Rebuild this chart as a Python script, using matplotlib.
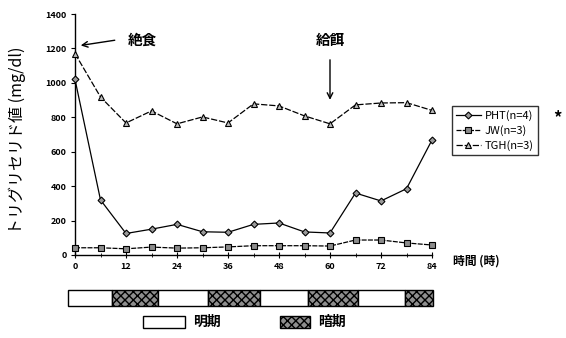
import matplotlib
matplotlib.use('Agg')
import matplotlib.pyplot as plt
from matplotlib.patches import Rectangle

plt.rcParams['font.family'] = ['Noto Sans CJK JP', 'DejaVu Sans']

# sampling times (h) after start of fasting
hours = [0, 6, 12, 18, 24, 30, 36, 42, 48, 54, 60, 66, 72, 78, 84]
pht = [1020, 320, 125, 150, 178, 135, 132, 178, 186, 134, 128, 360, 314, 385, 668]
jw = [42, 42, 36, 46, 40, 42, 47, 54, 54, 54, 52, 87, 87, 70, 58]
tgh = [1170, 918, 767, 837, 762, 802, 767, 878, 866, 808, 762, 872, 883, 885, 840]

series_labels = ['PHT(n=4)', 'JW(n=3)', 'TGH(n=3)']
x_ticks = [0, 12, 24, 36, 48, 60, 72, 84]
y_ticks = [0, 200, 400, 600, 800, 1000, 1200, 1400]

# light/dark cycle (h): phase boundaries and whether each span is dark
cycle_edges = [-1.6, 8.7, 19.5, 31.3, 43.5, 54.8, 66.6, 77.6, 84.2]
cycle_dark = [False, True, False, True, False, True, False, True]

fig = plt.figure(figsize=(5.66, 3.38), dpi=100)
ax = fig.add_axes([75 / 566, 83 / 338, 357 / 566, 241 / 338])

mk = dict(color='black', lw=0.9, markeredgecolor='black', markeredgewidth=0.8,
          clip_on=False, zorder=3)
ax.plot(hours, pht, marker='D', markersize=3.5, markerfacecolor='#9a9a9a',
        label=series_labels[0], **mk)
ax.plot(hours, jw, marker='s', markersize=4, markerfacecolor='#8c8c8c',
        label=series_labels[1], dashes=(4, 1), **mk)
ax.plot(hours, tgh, marker='^', markersize=4.5, markerfacecolor='#bdbdbd',
        label=series_labels[2], dashes=(5, 1.5), **mk)

ax.set_xlim(0, 84)
ax.set_ylim(0, 1400)
ax.set_xticks(x_ticks)
ax.set_yticks(y_ticks)
ax.set_xticks(range(0, 85, 6), minor=True)
ax.tick_params(axis='both', labelsize=6.5, width=0.8, length=3, pad=3)
ax.tick_params(axis='x', direction='inout', length=4)
ax.tick_params(axis='x', which='minor', direction='inout', length=3)
ax.tick_params(axis='y', direction='out', length=3)
for lbl in ax.get_xticklabels() + ax.get_yticklabels():
    lbl.set_fontweight('bold')
for s in ['top', 'right']:
    ax.spines[s].set_visible(False)
for s in ['left', 'bottom']:
    ax.spines[s].set_linewidth(1.0)

fig.text(17 / 566, 1 - 140 / 338, 'トリグリセリド値 (mg/dl)', fontsize=11.5,
         rotation=90, ha='center', va='center')
ax.text(89, -35, '時間 (時)', fontsize=8.5, fontweight='bold',
        va='center', ha='left', clip_on=False)

# feeding annotations
ax.annotate('', xy=(0.7, 1215), xytext=(10, 1250),
            arrowprops=dict(arrowstyle='->', color='black', lw=1.0))
ax.text(12.5, 1250, '絶食', fontsize=10.5, fontweight='bold', va='center')
ax.annotate('', xy=(60, 885), xytext=(60, 1150),
            arrowprops=dict(arrowstyle='->', color='black', lw=1.0))
ax.text(60, 1250, '給餌', fontsize=10.5, fontweight='bold', va='center',
        ha='center')

leg = ax.legend(loc='upper left', bbox_to_anchor=(1.055, 0.62), fontsize=8,
                frameon=True, fancybox=False, edgecolor='black',
                handlelength=2.2, handletextpad=0.4, borderpad=0.4,
                labelspacing=0.35, borderaxespad=0)
leg.get_frame().set_linewidth(1.0)
fig.text(553 / 566, 1 - 118 / 338, '*', fontsize=12, fontweight='bold',
         va='center')

# light/dark bar
bx = fig.add_axes([75 / 566, (338 - 307) / 338, 357 / 566, 18 / 338])
bx.set_xlim(0, 84)
bx.set_ylim(0, 1)
bx.axis('off')
for x0, x1, dark in zip(cycle_edges[:-1], cycle_edges[1:], cycle_dark):
    bx.add_patch(Rectangle((x0, 0.05), x1 - x0, 0.9,
                           facecolor='#8f8f8f' if dark else 'white',
                           hatch='xxxx' if dark else None,
                           edgecolor='black', lw=1.0, clip_on=False))

# bar legend
fig.patches.append(Rectangle((143 / 566, 1 - 328 / 338), 42 / 566, 12 / 338,
                             transform=fig.transFigure, facecolor='white',
                             edgecolor='black', lw=1.0))
fig.text(193 / 566, 1 - 322 / 338, '明期', fontsize=10, fontweight='bold',
         va='center')
fig.patches.append(Rectangle((280 / 566, 1 - 328 / 338), 30 / 566, 12 / 338,
                             transform=fig.transFigure, facecolor='#8f8f8f',
                             hatch='xxxx', edgecolor='black', lw=1.0))
fig.text(318 / 566, 1 - 322 / 338, '暗期', fontsize=10, fontweight='bold',
         va='center')

fig.savefig('out.png', dpi=100)
